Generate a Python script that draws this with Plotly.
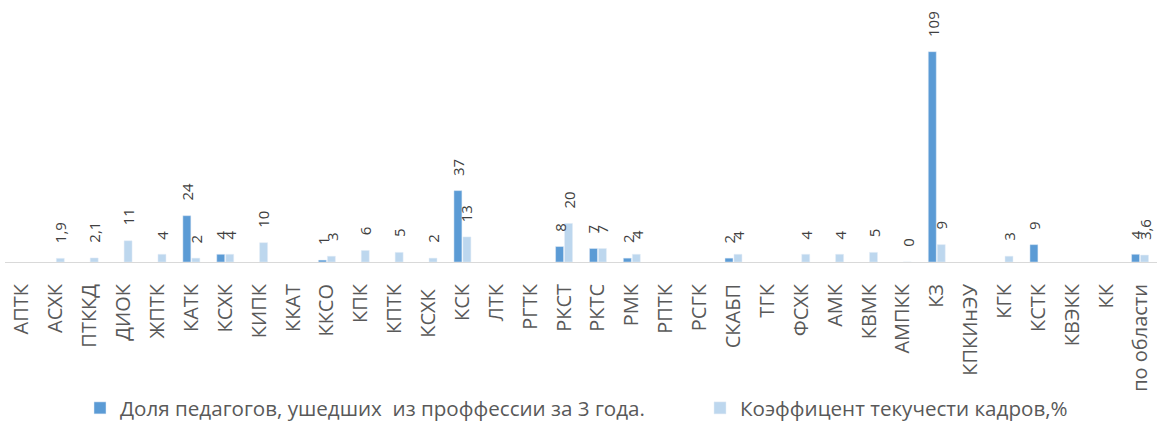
import plotly.graph_objects as go

categories = ["АПТК", "АСХК", "ПТККД", "ДИОК", "ЖПТК", "КАТК", "КСХК", "КИПК", "ККАТ", "ККСО",
              "КПК", "КПТК", "КСХК ", "КСК", "ЛТК", "РГТК", "РКСТ", "РКТС", "РМК", "РПТК",
              "РСГК", "СКАБП", "ТГК", "ФСХК", "АМК", "КВМК", "АМПКК", "КЗ", "КПКИнЭУ", "КГК",
              "КСТК", "КВЭКК", "КК", "по области"]

share_left = [None, None, None, None, None, 24, 4, None, None, 1,
              None, None, None, 37, None, None, 8, 7, 2, None,
              None, 2, None, None, None, None, None, 109, None, None,
              9, None, None, 4]

turnover = [None, 1.9, 2.1, 11, 4, 2, 4, 10, None, 3,
            6, 5, 2, 13, None, None, 20, 7, 4, None,
            None, 4, None, 4, 4, 5, 0, 9, None, 3,
            None, None, None, 3.6]

series_names = ["Доля педагогов, ушедших  из проффессии за 3 года.",
                "Коэффицент текучести кадров,%"]
series_colors = ["#5B9BD5", "#BDD7EE"]

BARGAP = 0.47
BARGROUPGAP = 0.11
FONT = "Open Sans, Liberation Sans, Arial"


def fmt(v):
    if float(v).is_integer():
        return str(int(v))
    return ("%g" % v).replace(".", ",")


fig = go.Figure()
series = [share_left, turnover]
legend_ids = ["legend", "legend2"]
for name, vals, color, lg in zip(series_names, series, series_colors, legend_ids):
    fig.add_trace(go.Bar(x=categories, y=vals, name=name, marker_color=color, legend=lg))

# data labels above each bar (rotated), placed at each bar's centre
slot = (1 - BARGAP) / len(series)
annotations = []
for k, vals in enumerate(series):
    off = -((1 - BARGAP) / 2) + slot * (k + 0.5)
    for i, v in enumerate(vals):
        if v is None:
            continue
        annotations.append(dict(
            x=i + off, y=v, xref="x", yref="y", text=fmt(v), showarrow=False,
            textangle=-90, xanchor="center", yanchor="bottom", yshift=13,
            font=dict(family=FONT, size=15, color="#404040"),
        ))

legend_font = dict(family=FONT, size=20.6, color="#595959")
fig.update_layout(
    width=1159, height=423,
    margin=dict(l=5, r=2, t=10, b=161, autoexpand=False),
    paper_bgcolor="white", plot_bgcolor="white",
    barmode="group", bargap=BARGAP, bargroupgap=BARGROUPGAP,
    showlegend=True,
    legend=dict(orientation="h", xref="container", x=80 / 1159, xanchor="left",
                yref="container", y=15 / 423, yanchor="middle", font=legend_font,
                itemwidth=30, bgcolor="rgba(0,0,0,0)"),
    legend2=dict(orientation="h", xref="container", x=700 / 1159, xanchor="left",
                 yref="container", y=15 / 423, yanchor="middle", font=legend_font,
                 itemwidth=30, bgcolor="rgba(0,0,0,0)"),
    font=dict(family=FONT, color="#595959"),
    annotations=annotations,
)
fig.update_xaxes(tickangle=-90, showline=True, linecolor="#D9D9D9", linewidth=1,
                 ticks="", tickfont=dict(family=FONT, size=20, color="#595959"),
                 ticklabelstandoff=13, showgrid=False, automargin=False)
fig.update_yaxes(visible=False, range=[0, 130.6], showgrid=False, zeroline=False)

fig.write_html("out.html", config={"displayModeBar": False},
               post_script="document.body.style.margin='0';document.body.style.overflow='hidden';")
